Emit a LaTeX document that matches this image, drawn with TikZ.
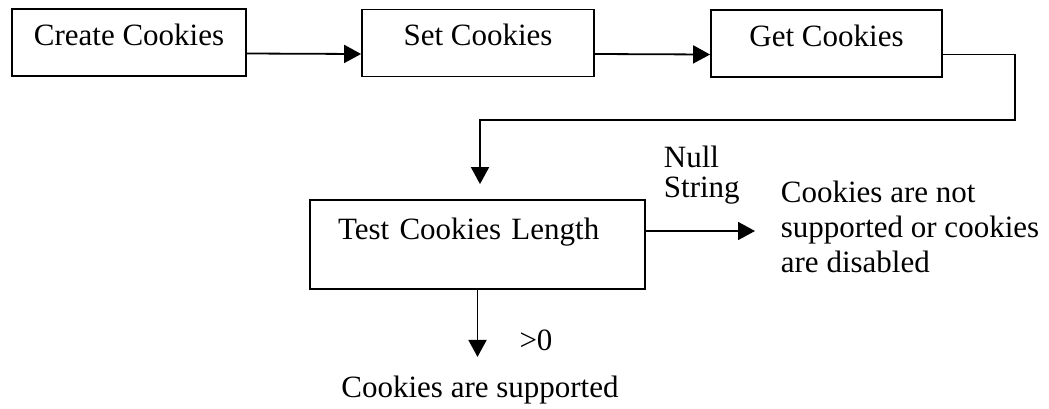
\documentclass[tikz,border=0pt]{standalone}
\usepackage{fontspec}
\setmainfont{Liberation Serif}
\usetikzlibrary{arrows.meta,calc}

\begin{document}
\begin{tikzpicture}[
  x=0.5pt, y=-0.5pt,
  font=\fontsize{15.5}{17.5}\selectfont,
  line width=0.9pt,
  stepbox/.style={draw, rectangle, inner xsep=0pt, inner ysep=0pt,
                  text height=18pt, text depth=15.5pt, minimum width=#1},
  arr/.style={-{Triangle[length=8.5pt,width=9pt]}},
  plain/.style={inner sep=0pt, align=left}
]
\useasboundingbox (0,0) rectangle (1049,408);

% top row of process boxes
\node[stepbox=117pt] (create) at (129,42.5) {Create Cookies};
\node[stepbox=116pt] (set)    at (478,43)   {Set Cookies};
\node[stepbox=115.5pt] (get)  at (826.5,43.5) {Get Cookies};

% test box, text kept to the upper left
\node[draw, rectangle, inner ysep=0pt, inner xsep=14pt,
      text width=139.5pt, align=left,
      text height=19.5pt, text depth=25pt] (test) at (477.5,244.5)
      {Test Cookies Length};

% outcomes
\node[plain, anchor=west, inner xsep=12.5pt, align=left] (notsupp) at (755,227)
  {Cookies are not\\supported or cookies\\are disabled};
\node[anchor=base] (supp) at (480,397) {Cookies are supported};

% branch labels
\node[plain, anchor=west, font=\fontsize{15.5}{15}\selectfont] (nullstr) at (663,175) {Null\\String};
\node[plain] (gtz) at (536,340) {>0};

% connectors
\draw[arr] ([yshift=-5.5pt]create.east) -- ([yshift=-5.5pt]set.west);
\draw[arr] ([yshift=-5.5pt]set.east) -- ([yshift=-5.5pt]get.west);
\coordinate (turnA) at (1015,54.5);
\coordinate (turnB) at (1015,120);
\coordinate (turnC) at (480,120);
\draw[arr, shorten >=7.5pt] ([yshift=-5.5pt]get.east) -- (turnA) -- (turnB)
  -- (turnC) -- (turnC |- test.north);
\draw[arr] ([yshift=6.75pt]test.east) -- ([yshift=6.75pt]test.east -| notsupp.west);
\draw[arr, shorten >=5.5pt] (test.south) -- (test.south |- supp.north);
\end{tikzpicture}
\end{document}
